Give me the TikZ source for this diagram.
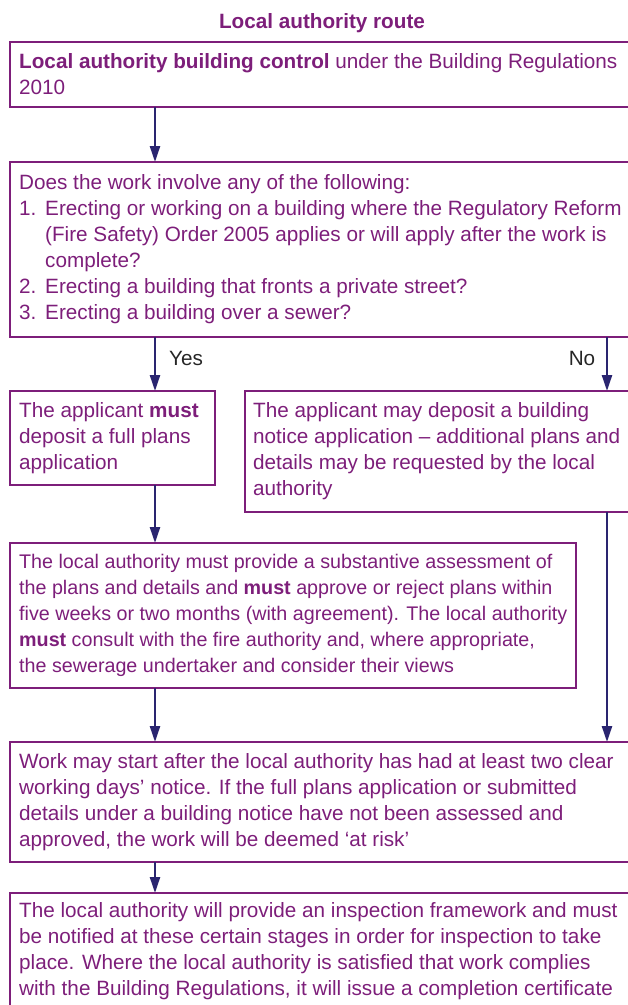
\documentclass[tikz,border=0pt]{standalone}
\usepackage{fontspec}
\setmainfont{Liberation Sans}
\usetikzlibrary{arrows.meta}
\definecolor{lapurple}{RGB}{125,30,122}
\definecolor{lanavy}{RGB}{42,37,112}
\begin{document}
\begin{tikzpicture}[x=1pt,y=-1pt,
 box/.style={draw=lapurple, line width=2.5pt, rectangle, inner sep=0pt, outer sep=0pt, anchor=north west},
 txt/.style={text=lapurple, align=left, inner sep=0pt, anchor=west, font=\fontsize{20.7}{26}\selectfont},
 arr/.style={draw=lanavy, line width=2.4pt, -{Triangle[width=10pt,length=16pt]}},
 lbl/.style={text=black!85, inner sep=0pt, font=\fontsize{20.7}{26}\selectfont}]
\useasboundingbox (0,0) rectangle (628,1005);
\clip (0,0) rectangle (628,1005);
\coordinate (cl) at (155,0);
\coordinate (cr) at (607,0);

\node[txt, anchor=center] (title) at (322,23) {\textbf{Local authority route}};

\node[box, minimum width=700, minimum height=65] (b1) at (10,42) {};
\node[txt] (t1) at ([xshift=9pt]b1.west) {\textbf{Local authority building control} under the Building Regulations\\2010};

\node[box, minimum width=700, minimum height=175] (b2) at (10,162) {};
\node[txt] (t2) at ([xshift=9pt]b2.west) {Does the work involve any of the following:\\
\makebox[26pt][l]{1.}Erecting or working on a building where the Regulatory Reform\\
\hspace*{26pt}(Fire Safety) Order 2005 applies or will apply after the work is\\
\hspace*{26pt}complete?\\
\makebox[26pt][l]{2.}Erecting a building that fronts a private street?\\
\makebox[26pt][l]{3.}Erecting a building over a sewer?};

\node[box, minimum width=205, minimum height=94] (b3) at (10,391) {};
\node[txt] (t3) at ([xshift=9pt]b3.west) {The applicant \textbf{must}\\deposit a full plans\\application};

\node[box, minimum width=500, minimum height=121] (b4) at (245,391) {};
\node[txt] (t4) at ([xshift=8pt]b4.west) {The applicant may deposit a building\\notice application – additional plans and\\details may be requested by the local\\authority};

\node[box, minimum width=566, minimum height=145] (b5) at (10,543) {};
\node[txt, font=\fontsize{19.7}{26}\selectfont] (t5) at ([xshift=9pt]b5.west) {The local authority must provide a substantive assessment of\\
the plans and details and \textbf{must} approve or reject plans within\\
five weeks or two months (with agreement). The local authority\\
\textbf{must} consult with the fire authority and, where appropriate,\\
the sewerage undertaker and consider their views};

\node[box, minimum width=700, minimum height=120] (b6) at (10,742) {};
\node[txt] (t6) at ([xshift=9pt]b6.west) {Work may start after the local authority has had at least two clear\\
working days’ notice. If the full plans application or submitted\\
details under a building notice have not been assessed and\\
approved, the work will be deemed ‘at risk’};

\node[box, minimum width=700, minimum height=116] (b7) at (10,893) {};
\node[txt] (t7) at ([xshift=9pt]b7.west) {The local authority will provide an inspection framework and must\\
be notified at these certain stages in order for inspection to take\\
place. Where the local authority is satisfied that work complies\\
with the Building Regulations, it will issue a completion certificate};

\draw[arr] (b1.south -| cl) -- (b2.north -| cl);
\draw[arr] (b2.south -| cl) -- (b3.north -| cl);
\draw[arr] (b2.south -| cr) -- (b4.north -| cr);
\draw[arr] (b3.south -| cl) -- (b5.north -| cl);
\draw[arr] (b5.south -| cl) -- (b6.north -| cl);
\draw[arr] (b4.south -| cr) -- (b6.north -| cr);
\draw[arr] (b6.south -| cl) -- (b7.north -| cl);

\node[lbl] (yes) at (186,358) {Yes};
\node[lbl] (no) at (582,358) {No};
\end{tikzpicture}
\end{document}
